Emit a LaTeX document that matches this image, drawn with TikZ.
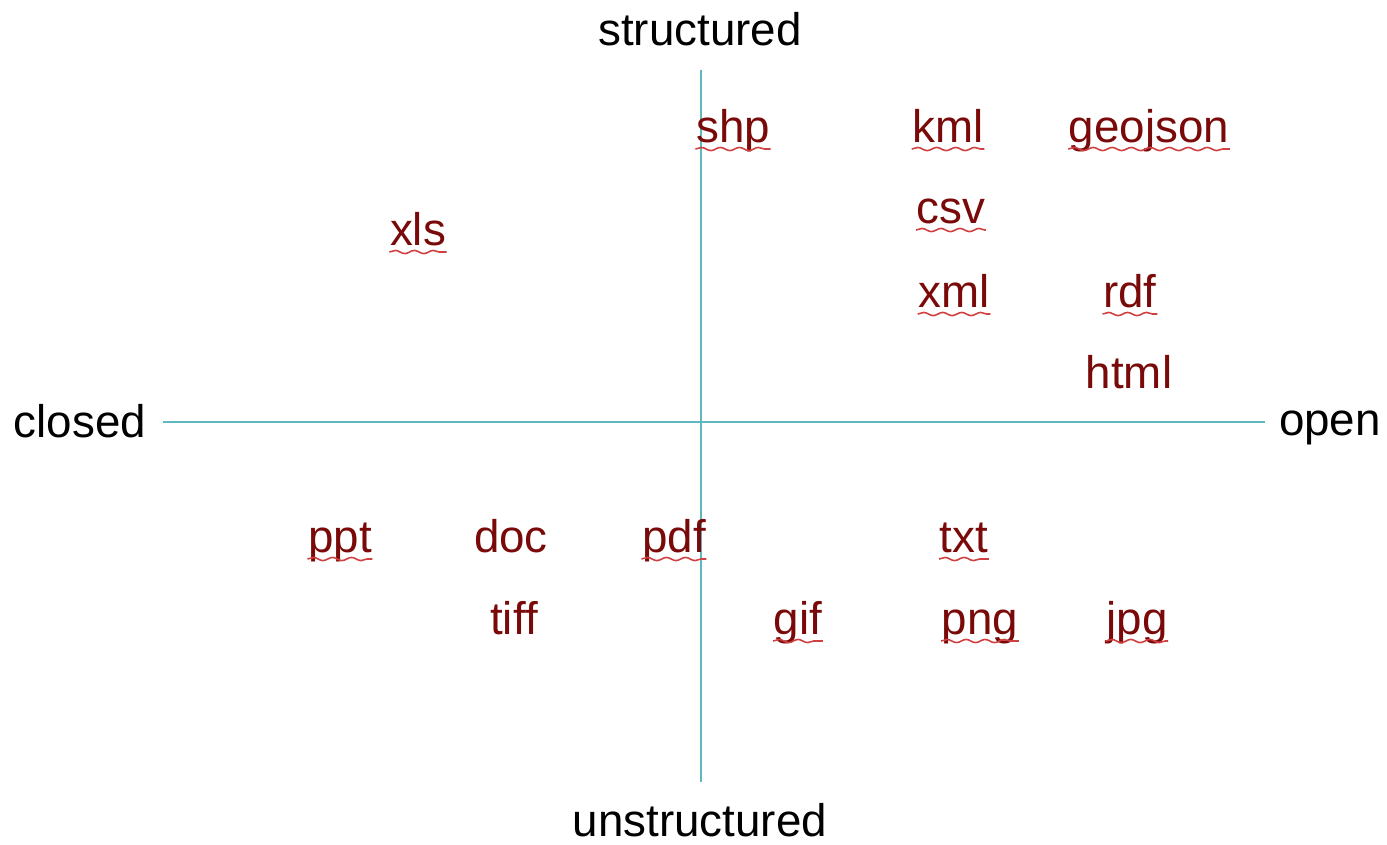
\documentclass[tikz,border=0pt]{standalone}
\usepackage{fontspec}
\setmainfont{Liberation Sans}
\usetikzlibrary{decorations.pathmorphing}
\definecolor{axiscol}{HTML}{5FB8C0}
\definecolor{fmtcol}{HTML}{7A0A0A}
\definecolor{squigcol}{HTML}{D04040}
\tikzset{
  axislbl/.style={inner sep=0pt, anchor=base, font=\fontsize{13}{15}\selectfont, text=black},
  fmt/.style={inner sep=0pt, anchor=base, font=\fontsize{13}{15}\selectfont, text=fmtcol},
  axisline/.style={draw=axiscol, line width=0.5pt},
  squig/.style={draw=squigcol, line width=0.45pt, decorate, decoration={snake, amplitude=0.45pt, segment length=1.9mm}}
}
\begin{document}
\begin{tikzpicture}[x=0.01cm, y=-0.01cm]
\useasboundingbox (0,0) rectangle (1387,844);
\coordinate (hl) at (163,422);
\coordinate (hr) at (1265,422);
\coordinate (vt) at (701,70);
\coordinate (vb) at (701,782);
\draw[axisline] (hl) -- (hr);
\draw[axisline] (vt) -- (vb);

\node[axislbl] (structured) at (700,45) {structured};
\node[axislbl] (unstructured) at (700,836) {unstructured};
\node[axislbl] (closed) at (80,437) {closed};
\node[axislbl] (open) at (1330,435) {open};

\node[fmt] (shp) at (733,142) {shp};
\node[fmt] (kml) at (948,142) {kml};
\node[fmt] (geojson) at (1149,142) {geojson};
\node[fmt] (csv) at (951,223) {csv};
\node[fmt] (xls) at (418,245) {xls};
\node[fmt] (xml) at (954,307) {xml};
\node[fmt] (rdf) at (1130,307) {rdf};
\node[fmt] (html) at (1129,388) {html};
\node[fmt] (ppt) at (340,552) {ppt};
\node[fmt] (doc) at (511,552) {doc};
\node[fmt] (pdf) at (674,552) {pdf};
\node[fmt] (txt) at (964,552) {txt};
\node[fmt] (tiff) at (514,634) {tiff};
\node[fmt] (gif) at (798,634) {gif};
\node[fmt] (png) at (980,634) {png};
\node[fmt] (jpg) at (1137,634) {jpg};

\foreach \n in {shp,kml,geojson,csv,xls,xml,rdf,ppt,pdf,txt,gif,png,jpg}{
  \draw[squig] ([yshift=-0.7mm]\n.base west) -- ([yshift=-0.7mm]\n.base east);
}
\end{tikzpicture}
\end{document}
